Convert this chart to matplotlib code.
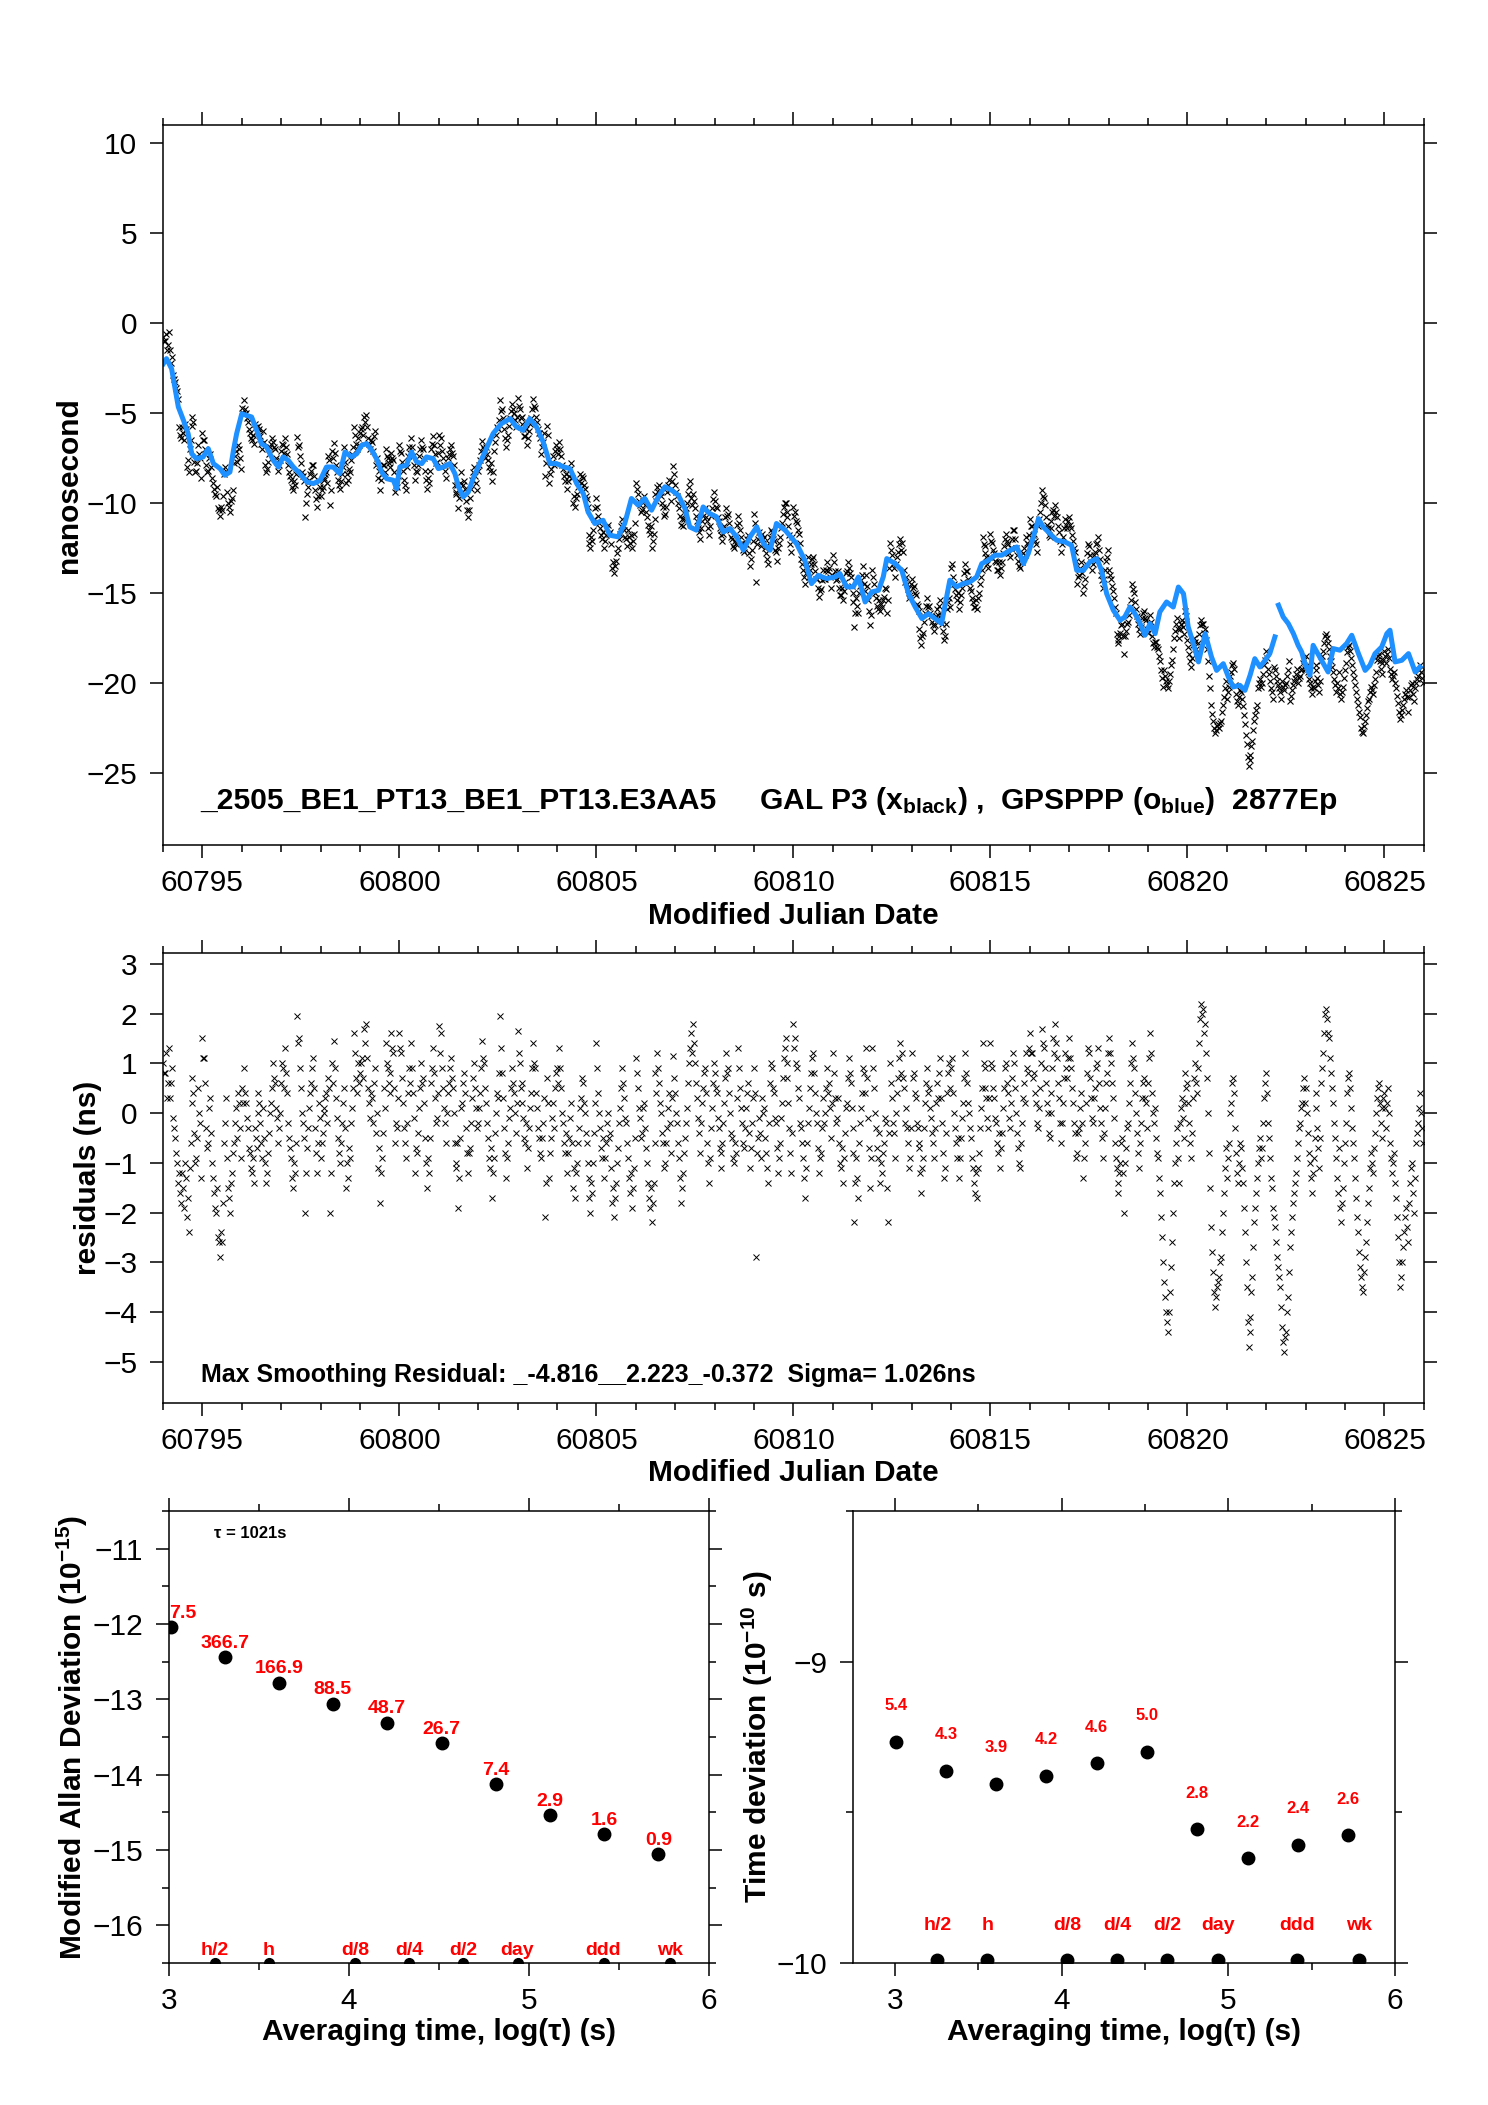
import numpy as np
import matplotlib
matplotlib.use('Agg')
import matplotlib.pyplot as plt
from matplotlib.ticker import MultipleLocator, FormatStrFormatter

plt.rcParams['font.family'] = ['Liberation Sans', 'DejaVu Sans']
plt.rcParams['mathtext.fontset'] = 'custom'
plt.rcParams['mathtext.rm'] = 'Liberation Sans'
plt.rcParams['mathtext.bf'] = 'Liberation Sans:bold'
plt.rcParams['mathtext.it'] = 'Liberation Sans:italic'
plt.rcParams['axes.unicode_minus'] = True

# ---- top panel: GPSPPP (blue), NaN = gap
blue_mjd = [60794.01, 60794.09, 60794.22, 60794.30, 60794.39, 60794.52, 60794.64, 60794.73, 60794.85,
            60795.02, 60795.15, 60795.28, 60795.45, 60795.57, 60795.70, 60795.79, 60795.87,
            60796.00, 60796.12, 60796.25, 60796.38, 60796.50, 60796.63, 60796.80, 60796.93,
            60797.05, 60797.18, 60797.31, 60797.48, 60797.65, 60797.82, 60797.99,
            60798.15, 60798.32, 60798.49, 60798.62, 60798.79, 60798.92,
            60799.04, 60799.17, 60799.30, 60799.42, 60799.55, 60799.68, 60799.85, 60799.93,
            60800.01, 60800.18, 60800.31, 60800.44, 60800.57, 60800.69, 60800.86, 60800.99,
            60801.12, 60801.28, 60801.41, 60801.50, 60801.62, 60801.75, 60801.88,
            60802.00, 60802.17, 60802.38, 60802.59, 60802.81, 60802.97,
            60803.14, 60803.31, 60803.48, 60803.65, 60803.82, 60803.99,
            60804.16, 60804.33, 60804.50, 60804.67, 60804.79, 60804.96,
            60805.17, 60805.34, 60805.55, 60805.72, 60805.89,
            60806.06, 60806.23, 60806.40, 60806.57, 60806.74, 60806.91,
            60807.08, 60807.25, 60807.37, 60807.54, 60807.71, 60807.88,
            60808.05, 60808.22, 60808.39, 60808.56, 60808.73, 60808.90,
            60809.07, 60809.24, 60809.41, 60809.57, 60809.79,
            60810.08, 60810.29, 60810.46, 60810.63, 60810.84,
            60811.06, 60811.18, 60811.35, 60811.52, 60811.65, 60811.82, 60811.99,
            60812.16, 60812.28, 60812.37, 60812.58, 60812.75, 60812.92,
            60813.09, 60813.26, 60813.43, 60813.59, 60813.76, 60813.89, 60813.97,
            60814.14, 60814.31, 60814.48, 60814.65, 60814.78, 60814.95,
            60815.12, 60815.29, 60815.50, 60815.67, 60815.84, 60815.96,
            60816.09, 60816.22, 60816.34, 60816.47, 60816.68, 60816.89,
            60817.06, 60817.19, 60817.36, 60817.53, 60817.70, 60817.82, 60817.95,
            60818.12, 60818.29, 60818.41, 60818.54, 60818.67, 60818.80, 60818.92,
            60819.05, 60819.18, 60819.30, 60819.47, 60819.64, 60819.77, 60819.90,
            60820.02, 60820.15, 60820.28, 60820.45, 60820.61, 60820.74, 60820.91,
            60821.04, 60821.16, 60821.33, 60821.46, 60821.59, 60821.71, 60821.84, 60821.97,
            60822.09, 60822.22, np.nan, 60822.31, 60822.43, 60822.56, 60822.69, 60822.81, 60822.90, 60822.98,
            60823.11, 60823.19, 60823.45, 60823.57, 60823.70, 60823.87,
            60824.04, 60824.17, 60824.34, 60824.51, 60824.63, 60824.76, 60824.93,
            60825.06, 60825.14, 60825.27, 60825.44, 60825.61, 60825.78, 60825.90]
blue_ns = [-2.26, -1.98, -2.54, -3.55, -4.66, -5.40, -6.15, -7.26, -7.54,
           -7.44, -6.98, -7.81, -8.09, -8.46, -8.28, -7.07, -6.15,
           -5.04, -5.13, -5.22, -5.96, -6.70, -6.89, -7.63, -8.00,
           -7.44, -7.63, -8.00, -8.37, -8.83, -8.92, -8.74,
           -8.00, -8.00, -8.37, -7.17, -7.44, -7.26,
           -6.80, -6.70, -7.07, -7.54, -8.28, -8.65, -8.74, -9.20,
           -8.00, -7.90, -7.17, -7.72, -7.81, -7.44, -7.54, -8.09,
           -8.00, -7.81, -8.37, -9.10, -9.66, -9.39, -8.60,
           -8.00, -7.16, -6.14, -5.59, -5.31, -5.77,
           -5.96, -5.31, -5.77, -6.61, -7.81, -7.81,
           -7.99, -8.09, -8.92, -9.48, -10.50, -11.14,
           -10.96, -11.79, -11.88, -11.14, -9.75,
           -10.12, -9.75, -10.40, -9.66, -9.10, -9.29,
           -9.57, -10.31, -11.33, -11.51, -10.22, -10.59,
           -10.77, -11.61, -11.42, -11.88, -12.62, -11.88,
           -11.33, -12.25, -12.62, -11.14, -11.51,
           -12.26, -13.18, -14.48, -14.02, -14.20,
           -14.11, -13.92, -14.66, -14.66, -14.11, -15.50, -14.94,
           -14.85, -14.11, -13.09, -13.37, -13.74, -15.03,
           -15.77, -16.42, -16.15, -16.42, -16.70, -15.22, -14.29,
           -14.66, -14.48, -14.39, -14.11, -13.37, -13.18,
           -12.90, -12.90, -12.63, -12.44, -13.37, -12.81,
           -11.89, -10.87, -11.33, -11.61, -12.07, -12.16,
           -12.35, -13.74, -13.74, -13.27, -13.09, -13.74, -15.04,
           -15.96, -16.52, -16.33, -15.78, -16.15, -16.70, -17.35,
           -16.70, -17.26, -16.05, -15.50, -15.78, -14.67, -15.04,
           -16.89, -17.81, -18.83, -17.26, -18.55, -19.30, -18.93,
           -19.67, -20.22, -20.13, -20.41, -19.57, -18.65, -19.11, -18.74,
           -18.37, -17.44, np.nan, -15.68, -16.33, -16.70, -17.26, -17.91, -18.28, -18.93,
           -19.57, -17.91, -18.93, -19.39, -18.09, -18.18,
           -17.81, -17.35, -18.37, -19.30, -19.02, -18.37, -18.00,
           -17.26, -17.07, -18.83, -18.74, -18.37, -19.39, -19.11]

# smoothing curve of GAL P3, one value per 0.2 day from MJD 60794.0
smooth_ns = [-1.8, -2.8, -4.6, -5.9, -7.3,
             -7.6, -7.6, -7.8, -8.5, -7.2,
             -5.2, -5.3, -6.1, -6.9, -7.6,
             -7.7, -7.8, -8.3, -8.8, -9.0,
             -8.7, -8.1, -8.2, -7.4, -7.4,
             -6.9, -6.9, -7.5, -8.4, -8.8,
             -8.4, -7.8, -7.5, -7.7, -7.6,
             -8.0, -7.9, -8.4, -9.6, -9.0,
             -8.0, -7.1, -6.2, -5.6, -5.4,
             -5.8, -5.7, -5.6, -6.4, -7.6,
             -7.9, -8.0, -8.5, -9.2, -10.5,
             -11.1, -11.2, -11.8, -11.8, -10.6,
             -10.0, -9.8, -10.3, -9.6, -9.1,
             -9.4, -10.1, -11.3, -11.2, -10.4,
             -10.7, -11.5, -11.5, -12.0, -12.4,
             -11.5, -12.0, -12.5, -11.3, -11.5,
             -12.0, -12.8, -14.2, -14.0, -14.2,
             -14.1, -14.0, -14.7, -14.4, -15.3,
             -15.0, -14.6, -13.2, -13.4, -14.2,
             -15.4, -16.3, -16.2, -16.5, -16.3,
             -14.5, -14.6, -14.4, -14.2, -13.3,
             -13.1, -12.9, -12.7, -12.5, -13.1,
             -12.5, -11.0, -11.4, -11.9, -12.1,
             -12.3, -13.7, -13.6, -13.2, -13.8,
             -15.2, -16.2, -16.4, -15.9, -16.7,
             -17.8, -17.2, -15.9, -16.1, -16.8,
             -18.2, -18.7, -18.8, -18.9, -19.2,
             -19.6, -19.8, -19.9, -19.9, -19.3,
             -19.0, -17.0, -15.6, -18.3, -19.4,
             -19.0, -19.4, -19.4, -19.6, -18.7,
             -18.7, -18.8, -19.2, -19.4, -19.0,
             -18.6, -18.6, -18.5, -19.0, -19.4]

# smoothing residuals, one value per 0.05 day from MJD 60794.0 (20 per day)
resid_a = [
    1.0, 0.8, 0.3, 1.3, 0.6, -0.1, -0.5, -1.0, -1.2, -1.8, -1.5, -1.0, -2.1, -2.4, -0.6, 0.7, -0.4, -0.9, 0.5, -0.2,
    1.5, 1.1, -0.3, -0.6, 0.3, -1.0, -1.6, -2.0, -2.5, -2.9, -2.6, -0.6, 0.3, -1.5, -2.0, -1.2, -0.6, 0.1, 0.4, -0.3,
    0.5, 0.9, 0.2, -0.3, -0.8, -1.2, -1.4, -0.5, 0.0, 0.2, -0.6, 0.1, -1.0, -1.2, -0.4, 0.2, 1.0, 0.6, -0.1, -0.3,
    0.6, 0.9, 1.3, 0.4, -0.5, -0.9, -1.5, -1.2, 1.95, 1.5, 0.5, -0.2, -2.0, -0.7, 0.1, 0.6, 1.1, -0.3, -1.2, 0.2,
    -0.9, -0.4, 0.0, 0.4, 0.7, -2.0, 1.0, 1.45, 0.3, -0.5, -1.0, -0.2, 0.5, -1.5, -1.3, -0.9, 0.1, 1.6, 0.7, 1.0,
    0.8, 1.1, 1.7, 1.8, 0.5, -0.1, 0.3, 0.6, -0.4, -1.1, -1.8, -0.9, 0.5, 1.4, 0.9, 0.4, 1.6, 1.2, -0.6, -0.3,
    1.6, 1.2, 0.2, -0.6, -0.2, 0.9, 1.4, 0.4, -1.2, -0.8, 0.1, 1.0, 0.7, -0.5, -1.5, -1.2, 0.6, 1.3, 0.3, -0.1,
    1.75, 1.6, 0.5, -0.2, 0.0, 0.6, 1.1, 0.5, -0.6, -1.0, -1.9, -0.5, 0.2, 0.8, -0.3, -1.2, -0.7, 0.3, 1.0, 0.1,
    -0.2, 0.4, 1.45, 1.0, 0.2, -0.5, -1.1, -1.7, -0.9, 0.0, 0.3, 1.95, 0.8, -0.3, -1.3, -0.6, 0.1, 0.9, 0.4, -0.4,
    1.65, 1.0, 0.6, -0.1, -0.6, -1.1, -0.3, 0.4, 1.4, 0.9, 0.1, -0.5, -0.9, -0.2, -2.1, 0.7, -1.3, -0.5, 0.2, 0.5,
    0.9, 1.3, 0.5, -0.2, -0.8, -1.2, -0.5, 0.2, -1.5, -1.7, -1.0, -0.3, 0.3, 0.6, 0.0, -0.6, -1.3, -2.0, -1.6, -0.4,
    1.4, 0.4, -0.3, -0.9, -1.3, -0.6, 0.0, -0.4, -1.8, -2.1, -1.4, -0.7, 0.1, 0.9, 0.3, -0.2, -0.9, -1.6, -1.9, -1.1,
    1.1, 0.5, -0.1, -0.4, 0.2, -0.7, -1.4, -1.9, -2.2, -1.4, 0.8, 1.2, 0.6, 0.0, -0.6, -1.0, -0.3, 0.4, -0.8, 1.15,
    0.4, -0.2, -0.9, -1.8, -1.2, -0.5, 0.1, 1.0, 1.6, 1.8, 1.0, 0.3, -0.4, -0.2, 0.5, 0.9, -0.6, -1.4, -0.3, 0.6,
    0.8, 0.4, -0.3, -1.1, -0.6, 0.2, 1.2, 0.9, 0.0, -0.5, -1.0, -0.8, 1.3, 0.5, -0.2, -0.7, 0.1, 0.6, -1.1, -0.2,
    0.9, -2.9, -0.5, -0.4, 0.3, 0.1, -0.8, -1.4, 0.6, 0.9, 0.4, -0.2, -1.2, -0.6, 0.2, 1.1, 1.5, 0.7, -0.3, -1.2,
    1.8, 1.5, 0.9, 0.3, -0.3, -0.9, -1.7, -0.6, 0.1, 0.8, 1.2, 0.4, -0.2, -1.2, -0.8, 0.3, 0.0, 0.9, 0.6, -0.5,
    1.2, 0.3, -0.1, -0.6, -1.1, -1.4, -0.4, 0.2, 1.1, 0.6, -0.3, -2.2, -0.9, -1.7, -0.2, 0.4, 0.8, 1.3, -0.1, -1.5,
    1.3, 0.5, -0.3, -0.9, -1.4, -1.2, -0.6, -0.2, -2.2, 1.0, 0.3, -0.4, 0.0, 0.7, 1.4, 1.2, 0.5, 0.1, -0.6, -0.9,
    1.2, 0.8, 0.3, -0.3, -0.7, -1.6, -0.9, 0.2, 0.9, 0.5, -0.1, -0.6, -0.3, 0.6, 0.8, 0.3, -0.8, -1.1, 0.4, 1.0,
    0.9, 0.4, -0.3, -0.9, -1.3, -0.5, 0.2, 1.2, 0.6, 0.0, -0.5, -1.1, -1.6, -1.7, -0.8, 0.1, 1.4, 0.9, 0.3, -0.3,
    1.4, 0.9, 0.3, -0.2, -0.8, -1.1, -0.4, 0.5, 1.0, 0.4, -0.3, 0.7, 1.0, 0.0, -0.7, -1.1, -0.2, 0.6, 1.2, 0.8,
    1.6, 1.2, 0.8, 0.2, -0.3, 0.5, 1.7, 1.3, 0.6, 0.0, -0.5, 0.4, 1.5, 1.8, 1.1, 0.3, -0.6, 0.2, 1.2, 0.7,
    1.5, 0.9, 0.2, -0.4, -0.8, -0.3, 0.4, -1.3, -0.6, 0.8, 1.2, 0.3, -0.2, 0.5, 1.0, 0.6, -0.2, -0.9, 0.1, 0.8,
    1.5, 1.0, 0.3, -0.6, -1.1, -1.6, -1.0, -0.5, -2.0, -0.7, -0.2, 0.6, 1.4, 0.9, 0.0, -0.8, -0.6, 0.3, 0.7, 0.2,
    0.6, 1.6, 0.4, -0.2, -0.5, -0.9, -1.6, -2.5, -3.4, -4.0, -4.4, -3.6, -2.6, -1.4, -0.6, -0.9, -0.2, 0.3, -0.5, 0.8,
    0.6, -0.2, -0.9, 0.3, 1.0, 0.4, 1.4, 2.2, 2.1, 1.8, 0.7, -0.8, -2.3, -3.2, -3.9, -3.5, -3.3, -2.9, -2.0, -1.1,
    -1.3, -0.6, 0.2, 0.7, -0.3, -1.2, -1.0, -0.7, -1.4, -2.4, -3.5, -4.7, -4.1, -3.3, -2.2, -1.6, -1.0, -0.5, -0.7, 0.3,
    0.8, -0.2, -0.9, -1.5, -2.1, -2.6, -3.1, -3.5, -4.3, -4.8, -4.4, -3.7, -2.7, -2.1, -1.6, -1.2, -0.6, -0.2, 0.2, 0.7,
    0.5, -0.4, -1.0, -1.6, -0.9, 0.4, -0.3, -1.1, 0.6, 1.2, 2.0, 1.9, 1.5, 0.8, 0.2, -0.5, -1.3, -0.7, -2.2, -1.5,
    -0.6, 0.4, 0.8, 0.1, -0.6, -1.3, -2.1, -2.8, -3.3, -3.6, -2.9, -2.2, -1.5, -0.8, -1.2, -0.4, 0.3, 0.6, -0.2, 0.1,
    0.4, -0.3, 0.5, -0.6, -1.2, -0.8, -1.7, -2.5, -3.5, -3.0, -2.4, -1.9, -2.6, -1.4, -1.0, -2.0, -0.6, -0.2, 0.4, -0.3]

# residual epochs in between (MJD 60794.025 + 0.05 k)
resid_b = [
    0.8, 1.2, 0.6, 0.3, 0.9, -0.3, -0.8, -1.4, -1.6, -1.2, -1.9, -1.3, -1.7, -1.1, 0.2, 0.4, -1.0, -0.5, 0.0, -1.3,
    1.1, 0.6, -0.7, 0.1, -0.4, -1.3, -1.9, -1.5, -2.6, -2.4, -1.8, -0.2, -0.9, -1.7, -1.4, -0.8, -0.2, -0.5, 0.2, -0.9,
    0.2, 0.4, -0.1, -0.7, -1.1, -0.9, -0.3, -0.7, 0.4, -0.2, -0.9, -0.5, -1.4, -0.8, 0.0, 0.5, 0.7, 0.1, -0.6, 0.0,
    1.0, 0.5, 0.8, -0.2, -0.7, -1.3, -1.0, -0.6, 1.4, 0.9, 0.0, -0.5, -1.2, -0.3, 0.4, 0.9, 0.5, -0.8, -0.6, -0.1,
    -0.6, 0.1, 0.3, -0.2, 0.5, -1.2, 0.6, 0.9, -0.1, -0.8, -0.6, 0.2, -0.3, -1.0, -0.7, -0.2, 0.5, 1.2, 0.4, 0.6,
    1.0, 0.7, 1.4, 1.1, 0.2, 0.4, -0.2, 0.9, 0.0, -0.7, -1.2, -0.4, 0.1, 1.0, 0.6, 0.8, 1.3, 0.5, -0.2, 0.3,
    1.3, 0.7, -0.3, -0.9, 0.4, 0.6, 0.9, -0.1, -0.7, -0.4, 0.5, 0.6, 0.2, -1.0, -0.9, -0.5, 0.9, 0.8, -0.2, 0.4,
    1.2, 0.9, 0.1, -0.6, 0.4, 0.9, 0.7, 0.0, -1.1, -0.6, -1.3, 0.1, 0.6, 0.4, -0.8, -0.8, -0.2, 0.7, 0.5, -0.3,
    0.1, 0.9, 1.1, 0.5, -0.2, -0.9, -0.7, -1.2, -0.4, 0.4, 0.8, 1.3, 0.3, -0.8, -0.9, -0.1, 0.5, 0.6, 0.0, 0.2,
    1.2, 0.5, 0.2, -0.5, -0.2, -0.7, 0.1, 0.9, 1.0, 0.4, -0.3, -0.8, -0.5, 0.3, -1.4, 0.2, -0.8, -0.1, -0.3, 0.8,
    0.6, 0.9, 0.0, -0.6, -0.4, -0.8, -0.1, -0.6, -1.1, -1.2, -0.6, 0.1, 0.7, 0.2, -0.4, -1.0, -1.7, -1.4, -1.0, 0.2,
    0.9, 0.0, -0.7, -0.5, -0.9, -0.2, -0.5, -1.1, -1.5, -1.7, -1.0, -0.2, 0.5, 0.6, -0.1, -0.6, -1.3, -1.2, -1.5, -0.5,
    0.8, 0.1, -0.5, 0.1, -0.3, -1.0, -1.7, -1.5, -1.8, -0.6, 0.4, 0.9, 0.2, -0.4, -1.1, -0.6, 0.1, -0.2, 0.3, 0.7,
    0.0, -0.6, -1.3, -1.5, -0.8, -0.2, 0.6, 1.3, 1.2, 1.4, 0.6, -0.1, -0.8, 0.2, 0.8, 0.4, -1.0, -0.9, 0.1, 1.0,
    0.5, -0.1, -0.7, -0.8, -0.2, 0.7, 0.8, 0.4, -0.4, -0.9, -0.6, 0.3, 0.9, 0.1, -0.6, -0.3, 0.4, -0.4, -0.7, 0.3,
    0.4, -0.8, -0.1, -0.9, 0.0, -0.5, -1.1, -0.2, 1.0, 0.5, -0.1, -0.7, -0.9, -0.1, 0.7, 1.3, 1.0, 0.2, -0.8, -0.4,
    1.3, 1.0, 0.5, -0.2, -0.6, -1.3, -1.1, -0.2, 0.5, 1.1, 0.8, 0.0, -0.7, -0.9, -0.3, -0.2, 0.5, 0.4, 0.1, 0.2,
    0.8, -0.2, 0.3, -1.0, -0.7, -0.9, 0.1, 0.7, 0.8, 0.1, -0.8, -1.4, -1.3, -0.6, 0.1, 0.9, 0.4, 0.7, -0.7, -0.9,
    0.9, 0.0, -0.7, -0.4, -1.0, -0.8, -0.1, -1.5, -0.4, 0.6, -0.2, -0.9, 0.4, 1.1, 0.8, 0.7, -0.2, -0.3, -1.1, -0.3,
    0.7, 0.4, -0.2, -0.6, -1.2, -1.1, -0.3, 0.6, 0.4, 0.1, -0.4, -0.9, 0.2, 0.3, 1.1, -0.2, -1.3, -0.4, 0.8, 0.5,
    1.1, 0.0, -0.6, -0.5, -0.9, -0.1, 0.7, 0.8, 0.2, -0.3, -0.9, -1.4, -1.2, -1.1, -0.3, 0.5, 1.0, 0.5, -0.1, 0.3,
    1.0, 0.5, -0.1, -0.6, -0.4, -0.7, 0.1, 0.9, 0.6, -0.1, 0.2, 1.2, 0.5, -0.4, -1.0, -0.6, 0.3, 0.2, 0.9, 1.3,
    1.2, 0.7, 0.4, -0.2, 0.1, 1.0, 1.4, 0.9, 0.2, -0.4, 0.0, 0.9, 1.2, 1.4, 0.6, -0.2, -0.2, 0.7, 0.9, 1.1,
    1.1, 0.5, -0.2, -0.9, -0.4, 0.1, -0.2, -0.9, 0.2, 1.3, 0.7, -0.1, 0.3, 0.9, 1.3, 0.1, -0.5, -0.4, 0.6, 1.2,
    1.2, 0.6, -0.1, -0.9, -1.4, -1.2, -0.6, -1.2, -1.0, -0.3, 0.2, 1.0, 1.1, 0.4, -0.4, -1.1, -0.2, 0.6, 0.3, -0.3,
    1.1, 1.2, 0.0, 0.1, -0.8, -1.3, -2.1, -3.0, -3.7, -4.2, -4.0, -3.1, -2.0, -1.0, -0.3, -1.4, 0.1, -0.1, 0.2, 0.5,
    0.2, -0.6, -0.4, 0.7, 0.6, 0.9, 1.9, 2.0, 1.6, 1.2, 0.0, -1.5, -2.8, -3.6, -3.7, -3.4, -3.0, -2.4, -1.6, -0.7,
    -0.9, 0.0, 0.6, 0.4, -0.8, -1.4, -0.6, -1.1, -1.9, -3.0, -4.2, -4.4, -3.6, -2.7, -1.9, -1.3, -0.7, -0.9, -0.2, 0.6,
    0.4, -0.5, -1.3, -1.9, -2.3, -2.9, -3.3, -3.9, -4.6, -4.5, -4.0, -3.2, -2.4, -1.8, -1.4, -0.9, -0.3, 0.1, 0.5, 0.2,
    0.0, -0.8, -1.3, -1.2, -0.5, 0.1, -0.7, -0.5, 0.9, 1.6, 2.1, 1.6, 1.1, 0.5, -0.2, -0.9, -1.6, -1.9, -1.8, -1.0,
    -0.2, 0.7, 0.5, -0.3, -0.9, -1.7, -2.4, -3.1, -3.5, -3.2, -2.6, -1.8, -1.1, -1.0, -0.7, 0.0, 0.5, 0.2, -0.5, 0.3,
    0.1, 0.2, 0.0, -0.9, -1.0, -1.4, -2.1, -3.0, -3.3, -2.7, -2.1, -2.3, -1.8, -1.1, -1.6, -1.3, -0.4, 0.1, 0.0, -0.6]

# ---- stability panels
log_tau = [3.01, 3.31, 3.61, 3.91, 4.21, 4.515, 4.815, 5.117, 5.416, 5.718]
mdev_log = [-12.04, -12.44, -12.78, -13.06, -13.31, -13.58, -14.13, -14.54, -14.79, -15.06]
mdev_labels = ['7.5', '366.7', '166.9', '88.5', '48.7', '26.7', '7.4', '2.9', '1.6', '0.9']
tdev_log = [-9.267, -9.363, -9.405, -9.379, -9.337, -9.299, -9.557, -9.653, -9.609, -9.576]
tdev_labels = ['5.4', '4.3', '3.9', '4.2', '4.6', '5.0', '2.8', '2.2', '2.4', '2.6']
span_log = [3.255, 3.556, 4.033, 4.334, 4.635, 4.936, 5.414, 5.782]
span_labels = ['h/2', 'h', 'd/8', 'd/4', 'd/2', 'day', 'ddd', 'wk']

RED = '#ff0000'
BLUE = '#1e90ff'
TICK_FS = 21.5
LAB_FS = 21.5

# black series = smoothing curve + residual, on the residual epochs
k = np.arange(len(resid_a))
resid_mjd = np.concatenate([60794.0 + 0.05 * k, 60794.025 + 0.05 * k])
resid_ns = np.concatenate([resid_a, resid_b])
smooth_rep = np.repeat(smooth_ns, 4)[:len(resid_a)]
black_ns = np.concatenate([smooth_rep, smooth_rep]) + resid_ns


def style_axes(ax, xmaj, xmin, ymaj, ymin=None):
    ax.xaxis.set_major_locator(MultipleLocator(xmaj))
    ax.xaxis.set_minor_locator(MultipleLocator(xmin))
    ax.yaxis.set_major_locator(MultipleLocator(ymaj))
    if ymin:
        ax.yaxis.set_minor_locator(MultipleLocator(ymin))
    ax.tick_params(which='both', direction='out', top=True, right=True, width=1.1)
    ax.tick_params(axis='x', which='major', length=9.5, pad=7.5, labelsize=TICK_FS)
    ax.tick_params(axis='x', which='minor', length=5)
    ax.tick_params(axis='y', which='major', length=9.5, pad=9, labelsize=TICK_FS)
    ax.tick_params(axis='y', which='minor', length=5)
    for s in ax.spines.values():
        s.set_linewidth(1.1)


fig = plt.figure(figsize=(14.88, 21.05), dpi=100)

# ---- panel 1: phase data
ax1 = fig.add_axes([0.1095, 0.5986, 0.8474, 0.3420])
ax1.plot(resid_mjd, black_ns, 'x', color='black', ms=5, mew=0.8)
ax1.plot(blue_mjd, blue_ns, '-', color=BLUE, lw=3.6)
ax1.set_xlim(60794, 60826)
ax1.set_ylim(-29, 11)
style_axes(ax1, 5, 1, 5)
ax1.xaxis.set_major_formatter(FormatStrFormatter('%d'))
ax1.set_xlabel('Modified Julian Date', fontsize=LAB_FS, fontweight='bold')
ax1.xaxis.set_label_coords(0.5, -0.079)
ax1.set_ylabel('nanosecond', fontsize=LAB_FS, fontweight='bold')
ax1.yaxis.set_label_coords(-0.063, 0.5)
ax1.text(60794.94, -27.0, '_2505_BE1_PT13_BE1_PT13.E3AA5', fontsize=21.6,
         fontweight='bold', va='baseline')
ax1.text(60809.13, -27.0, r'GAL P3 (x$_{\bf black}$) ,  GPSPPP (o$_{\bf blue}$)  2877Ep',
         fontsize=21.6, fontweight='bold', va='baseline')

# ---- panel 2: smoothing residuals
ax2 = fig.add_axes([0.1095, 0.3335, 0.8474, 0.2138])
ax2.plot(resid_mjd, resid_ns, 'x', color='black', ms=4, mew=0.7)
ax2.set_xlim(60794, 60826)
ax2.set_ylim(-5.83, 3.22)
style_axes(ax2, 5, 1, 1)
ax2.xaxis.set_major_formatter(FormatStrFormatter('%d'))
ax2.set_xlabel('Modified Julian Date', fontsize=LAB_FS, fontweight='bold')
ax2.xaxis.set_label_coords(0.5, -0.124)
ax2.set_ylabel('residuals (ns)', fontsize=LAB_FS, fontweight='bold')
ax2.yaxis.set_label_coords(-0.048, 0.5)
ax2.text(60794.97, -5.41, 'Max Smoothing Residual: _-4.816__2.223_-0.372  Sigma= 1.026ns',
         fontsize=18, fontweight='bold', va='baseline')

# ---- panel 3: modified Allan deviation
ax3 = fig.add_axes([0.1136, 0.0675, 0.3629, 0.2147])
ax3.plot(log_tau, mdev_log, 'o', color='black', ms=9)
for i, (x, y, lab) in enumerate(zip(log_tau, mdev_log, mdev_labels)):
    if i == 0:
        ax3.annotate(lab, (3.0, y), xytext=(0, 10), textcoords='offset points',
                     ha='left', va='center', color=RED, fontsize=14, fontweight='bold')
    else:
        ax3.annotate(lab, (x, y), xytext=(0, 10), textcoords='offset points',
                     ha='center', va='center', color=RED, fontsize=14, fontweight='bold')
ax3.plot(span_log, [-16.5] * len(span_log), 'o', color='black', ms=7)
for x, lab in zip(span_log, span_labels):
    ax3.text(x, -16.33, lab, ha='center', va='center', color=RED, fontsize=14, fontweight='bold')
ax3.text(3.25, -10.8, 'τ = 1021s', fontsize=12, fontweight='bold', va='center')
ax3.set_xlim(3, 6)
ax3.set_ylim(-16.5, -10.5)
style_axes(ax3, 1, 0.5, 1, 0.5)
ax3.set_xlabel('Averaging time, log(τ) (s)', fontsize=LAB_FS, fontweight='bold')
ax3.xaxis.set_label_coords(0.5, -0.122)
ax3.set_ylabel(r'Modified Allan Deviation ($\mathbf{10^{-15}}$)', fontsize=LAB_FS, fontweight='bold')
ax3.yaxis.set_label_coords(-0.146, 0.5)

# ---- panel 4: time deviation
ax4 = fig.add_axes([0.5733, 0.0675, 0.3642, 0.2147])
ax4.plot(log_tau, tdev_log, 'o', color='black', ms=9)
for x, y, lab in zip(log_tau, tdev_log, tdev_labels):
    ax4.annotate(lab, (x, y), xytext=(0, 26), textcoords='offset points',
                 ha='center', va='center', color=RED, fontsize=12, fontweight='bold')
ax4.plot(span_log, [-9.99] * len(span_log), 'o', color='black', ms=9)
for x, lab in zip(span_log, span_labels):
    ax4.text(x, -9.877, lab, ha='center', va='center', color=RED, fontsize=14, fontweight='bold')
ax4.set_xlim(2.75, 6)
ax4.set_ylim(-10, -8.5)
style_axes(ax4, 1, 0.5, 1, 0.5)
ax4.set_xlabel('Averaging time, log(τ) (s)', fontsize=LAB_FS, fontweight='bold')
ax4.xaxis.set_label_coords(0.5, -0.122)
ax4.set_ylabel(r'Time deviation ($\mathbf{10^{-10}}$ s)', fontsize=LAB_FS, fontweight='bold')
ax4.yaxis.set_label_coords(-0.144, 0.5)

fig.savefig('out.png', dpi=100)
